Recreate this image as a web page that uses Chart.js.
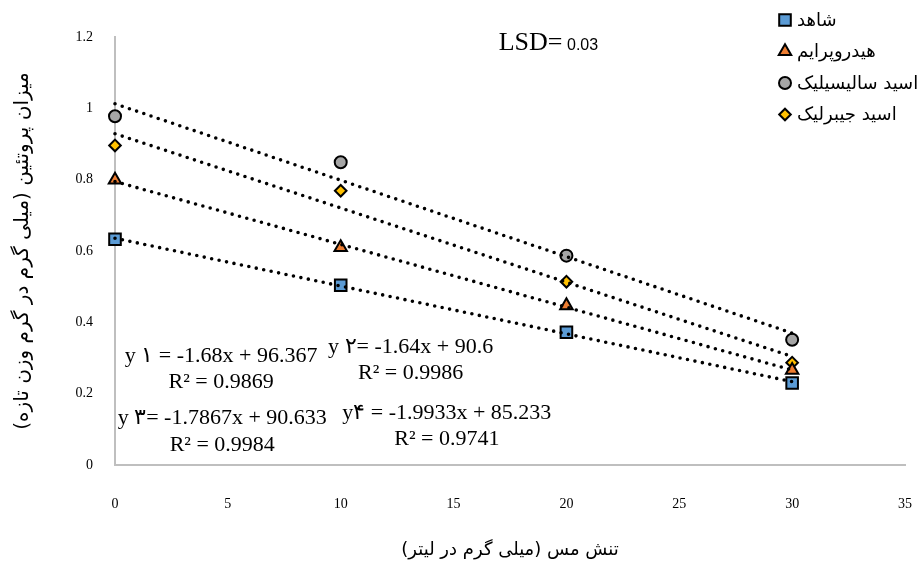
<!DOCTYPE html>
<html lang="fa">
<head>
<meta charset="utf-8">
<title>میزان پروتئین</title>
<script src="https://cdn.jsdelivr.net/npm/chart.js@4.4.0/dist/chart.umd.min.js"></script>
<style>
  html, body { margin: 0; padding: 0; background: #fff; }
  #wrap { width: 924px; height: 565px; }
</style>
</head>
<body>
<div id="wrap"><canvas id="proteinChart" width="924" height="565"></canvas></div>
<script>
// copper stress levels (mg/L)
const xValues = [0, 10, 20, 30];

const seriesNames = ['شاهد', 'هیدروپرایم', 'اسید سالیسیلیک', 'اسید جیبرلیک'];

// protein content
const controlValues = [0.633, 0.504, 0.372, 0.230];
const hydroValues = [0.799, 0.610, 0.447, 0.266];
const salicylicValues = [0.978, 0.849, 0.587, 0.351];
const gibberellicValues = [0.896, 0.769, 0.514, 0.287];

const equationTexts = [
  ['y ۱ = -1.68x + 96.367', 'R² = 0.9869'],
  ['y ۲= -1.64x + 90.6', 'R² = 0.9986'],
  ['y ۳= -1.7867x + 90.633', 'R² = 0.9984'],
  ['y۴ = -1.9933x + 85.233', 'R² = 0.9741']
];
// where each equation sits, in axis units
const equationAnchors = [
  { x: 4.7, y: 0.306, y2: 0.233 },
  { x: 13.1, y: 0.331, y2: 0.258 },
  { x: 4.75, y: 0.132, y2: 0.056 },
  { x: 14.7, y: 0.146, y2: 0.073 }
];

const lsdLabel = 'LSD=';
const lsdValue = '0.03';

(() => {
  const ctx = document.getElementById('proteinChart');

  // least squares trendline, drawn between first and last x
  const fitLine = (ys) => {
    const n = xValues.length;
    const mx = xValues.reduce((a, b) => a + b, 0) / n;
    const my = ys.reduce((a, b) => a + b, 0) / n;
    let sxy = 0, sxx = 0;
    xValues.forEach((x, i) => {
      sxy += (x - mx) * (ys[i] - my);
      sxx += (x - mx) * (x - mx);
    });
    const slope = sxy / sxx;
    const b = my - slope * mx;
    const x0 = xValues[0], x1 = xValues[n - 1];
    return [{ x: x0, y: b + slope * x0 }, { x: x1, y: b + slope * x1 }];
  };

  const styles = [
    { pointStyle: 'rect', radius: 8.2, color: '#5b9bd5' },
    { pointStyle: 'triangle', radius: 7.2, color: '#ed7d31' },
    { pointStyle: 'circle', radius: 6, color: '#a5a5a5' },
    { pointStyle: 'rectRot', radius: 5.8, color: '#ffc000' }
  ];
  const allValues = [controlValues, hydroValues, salicylicValues, gibberellicValues];

  const pointSets = allValues.map((vals, i) => ({
    label: seriesNames[i],
    data: xValues.map((x, j) => ({ x: x, y: vals[j] })),
    showLine: false,
    clip: false,
    pointStyle: styles[i].pointStyle,
    pointRadius: styles[i].radius,
    pointBackgroundColor: styles[i].color,
    pointBorderColor: '#000',
    pointBorderWidth: 2,
    order: 1
  }));

  const trendSets = allValues.map((vals) => ({
    label: '',
    data: fitLine(vals),
    showLine: true,
    clip: false,
    borderColor: '#000',
    borderWidth: 3.6,
    borderDash: [0, 7.6],
    borderCapStyle: 'round',
    pointRadius: 0,
    fill: false,
    order: 0
  }));

  const legendPlugin = {
    id: 'sideLegend',
    afterDraw(chart) {
      const c = chart.ctx;
      c.save();
      c.font = '18px "DejaVu Sans"';
      c.textBaseline = 'middle';
      c.textAlign = 'left';
      pointSets.forEach((ds, i) => {
        const y = 20 + i * 31.5;
        const mx = chart.width - 139;
        c.fillStyle = ds.pointBackgroundColor;
        c.strokeStyle = '#000';
        c.lineWidth = 2;
        Chart.helpers.drawPoint(c, { pointStyle: ds.pointStyle, radius: ds.pointRadius, rotation: 0, borderWidth: 2 }, mx, y);
        c.fillStyle = '#000';
        c.fillText(ds.label, mx + 12, y + 1);
      });
      c.restore();
    }
  };

  const textPlugin = {
    id: 'equationText',
    afterDatasetsDraw(chart) {
      const c = chart.ctx;
      const sx = chart.scales.x, sy = chart.scales.y;
      c.save();
      c.fillStyle = '#000';
      c.textAlign = 'center';
      c.textBaseline = 'middle';
      c.font = '22px "Liberation Serif"';
      equationAnchors.forEach((a, i) => {
        const px = sx.getPixelForValue(a.x);
        c.fillText(equationTexts[i][0], px, sy.getPixelForValue(a.y));
        c.fillText(equationTexts[i][1], px, sy.getPixelForValue(a.y2));
      });
      // LSD note
      c.textAlign = 'left';
      c.textBaseline = 'alphabetic';
      const lx = sx.getPixelForValue(17.0);
      const ly = sy.getPixelForValue(1.163);
      c.font = '26px "Liberation Serif"';
      c.fillText(lsdLabel, lx, ly);
      const w = c.measureText(lsdLabel + ' ').width;
      c.font = '16px "Liberation Sans"';
      c.fillText(lsdValue, lx + w - 2, ly);
      c.restore();
    }
  };

  new Chart(ctx, {
    type: 'scatter',
    data: { datasets: [...trendSets, ...pointSets] },
    options: {
      responsive: false,
      animation: false,
      layout: { padding: { top: 37, right: 19, left: 0, bottom: 0 } },
      plugins: {
        legend: { display: false },
        tooltip: { enabled: false }
      },
      scales: {
        x: {
          type: 'linear',
          min: 0,
          max: 35,
          ticks: { stepSize: 5, padding: 31, color: '#000', font: { family: 'Liberation Serif', size: 14 } },
          grid: { display: false, drawTicks: false },
          border: { display: true, color: '#bfbfbf', width: 2 },
          title: {
            display: true,
            text: 'تنش مس (میلی گرم در لیتر)',
            color: '#000',
            font: { family: 'DejaVu Sans', size: 18 },
            padding: { top: 0, bottom: 4 }
          },
          afterFit: (s) => {
            s.height = 100;
            // the tick padding would otherwise widen the side margins
            s.paddingLeft = 0;
            s.paddingRight = 0;
          }
        },
        y: {
          min: 0,
          max: 1.2,
          ticks: {
            stepSize: 0.2,
            padding: 22,
            color: '#000',
            font: { family: 'Liberation Serif', size: 14 },
            callback: (v) => String(Math.round(v * 10) / 10)
          },
          grid: { display: false, drawTicks: false },
          border: { display: true, color: '#bfbfbf', width: 2 },
          title: {
            display: true,
            text: 'میزان پروتئین (میلی گرم در گرم وزن تازه)',
            color: '#000',
            font: { family: 'DejaVu Sans', size: 20 },
            padding: { top: 11, bottom: 0 }
          },
          afterFit: (s) => { s.width = 115; }
        }
      }
    },
    plugins: [legendPlugin, textPlugin]
  });
})();
</script>
</body>
</html>
